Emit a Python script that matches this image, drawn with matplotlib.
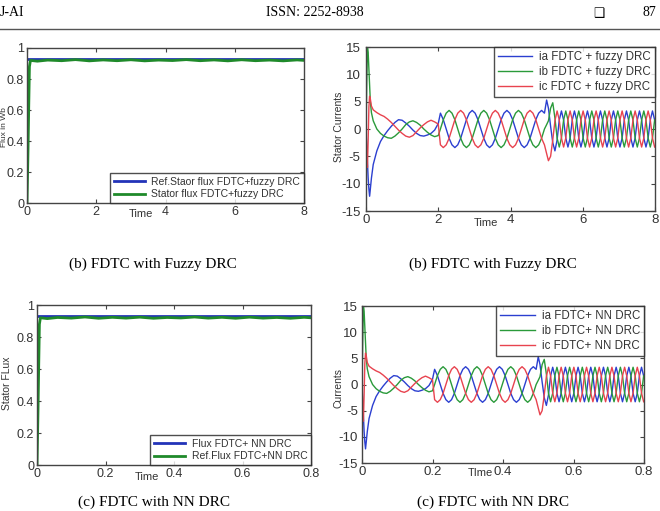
import matplotlib
matplotlib.use('Agg')
import matplotlib.pyplot as plt
from matplotlib.lines import Line2D
import numpy as np

# stator flux, fuzzy DRC run (time in s)
flux_t = [0, 0.03, 0.05, 0.07, 0.1, 0.3, 0.6, 1.0, 1.4, 1.8, 2.2, 2.6, 3.0, 3.4,
          3.8, 4.2, 4.6, 5.0, 5.4, 5.8, 6.2, 6.6, 7.0, 7.4, 7.8, 8.0]
flux_v = [0, 0.35, 0.62, 0.88, 0.92, 0.915, 0.922, 0.918, 0.925, 0.917, 0.923,
          0.918, 0.924, 0.917, 0.922, 0.919, 0.925, 0.918, 0.923, 0.917, 0.924,
          0.918, 0.922, 0.917, 0.923, 0.92]
flux_ref_t = [0, 8]
flux_ref_v = [0.93, 0.93]

# stator currents, fuzzy DRC run
cur_t = [0, 0.02, 0.04, 0.06, 0.08, 0.10, 0.12, 0.15, 0.2, 0.3, 0.4, 0.5, 0.6, 0.7,
         0.8, 0.9, 1.0, 1.1, 1.2, 1.3, 1.4, 1.5, 1.6, 1.7, 1.8, 1.9, 2.0,
         2.06, 2.14, 2.22, 2.30, 2.38, 2.46, 2.54, 2.62, 2.70, 2.78, 2.86, 2.94,
         3.02, 3.10, 3.18, 3.26, 3.34, 3.42, 3.50, 3.58, 3.66, 3.74, 3.82, 3.90,
         3.98, 4.06, 4.14, 4.22, 4.30, 4.38, 4.46, 4.54, 4.62, 4.70, 4.78, 4.86, 4.94,
         5.00,
         5.05, 5.11, 5.17, 5.23, 5.29, 5.35, 5.41, 5.47, 5.53, 5.59, 5.65, 5.71,
         5.77, 5.83, 5.89, 5.95, 6.01, 6.07, 6.13, 6.19, 6.25, 6.31, 6.37, 6.43,
         6.49, 6.55, 6.61, 6.67, 6.73, 6.79, 6.85, 6.91, 6.97, 7.03, 7.09, 7.15,
         7.21, 7.27, 7.33, 7.39, 7.45, 7.51, 7.57, 7.63, 7.69, 7.75, 7.81, 7.87,
         7.93, 7.99]
ia = [0, -3, -6, -9, -11, -12.3, -11, -9, -6.5, -4, -2.3, -1.2, -0.3, 0.5, 1.2, 1.7,
      1.6, 1.1, 0.5, -0.2, -0.8, -1.2, -1.3, -1.1, -0.8, -0.2, 1.0,
      2.9, 1.7, 0, -1.7, -2.9, -3.4, -2.9, -1.7, 0, 1.7, 2.9, 3.4,
      2.9, 1.7, 0, -1.7, -2.9, -3.4, -2.9, -1.7, 0, 1.7, 2.9, 3.4,
      2.9, 1.7, 0, -1.7, -2.9, -3.4, -2.9, -1.7, 0, 1.7, 2.9, 3.4, 2.9,
      5.3,
      3.8, 0.5, -2.5, -4.0, -2.0, 1.65,
      3.3, 1.65, -1.65, -3.3, -1.65, 1.65, 3.3, 1.65, -1.65, -3.3, -1.65, 1.65,
      3.3, 1.65, -1.65, -3.3, -1.65, 1.65, 3.3, 1.65, -1.65, -3.3, -1.65, 1.65,
      3.3, 1.65, -1.65, -3.3, -1.65, 1.65, 3.3, 1.65, -1.65, -3.3, -1.65, 1.65,
      3.3, 1.65, -1.65, -3.3, -1.65, 1.65, 3.3, 1.65]
ib = [0, 8, 15, 14, 11, 8, 5, 3, 1.5, 0, -0.8, -1.3, -1.6, -1.7, -1.3, -0.7,
      0, 0.8, 1.3, 1.5, 1.2, 0.7, 0, -0.6, -1.1, -1.4, -1.2,
      0, 1.7, 2.9, 3.4, 2.9, 1.7, 0, -1.7, -2.9, -3.4, -2.9, -1.7,
      0, 1.7, 2.9, 3.4, 2.9, 1.7, 0, -1.7, -2.9, -3.4, -2.9, -1.7,
      0, 1.7, 2.9, 3.4, 2.9, 1.7, 0, -1.7, -2.9, -3.4, -2.9, -1.7, 0,
      0.8,
      1.5, 3.8, 4.8, 2.0, -1.65, -3.3,
      -1.65, 1.65, 3.3, 1.65, -1.65, -3.3, -1.65, 1.65, 3.3, 1.65, -1.65, -3.3,
      -1.65, 1.65, 3.3, 1.65, -1.65, -3.3, -1.65, 1.65, 3.3, 1.65, -1.65, -3.3,
      -1.65, 1.65, 3.3, 1.65, -1.65, -3.3, -1.65, 1.65, 3.3, 1.65, -1.65, -3.3,
      -1.65, 1.65, 3.3, 1.65, -1.65, -3.3, -1.65, 1.65]
ic = [0, -4, -7, -2, 4, 6, 5.5, 4.2, 3.5, 3.0, 2.6, 2.3, 1.8, 1.2, 0.5, -0.2,
      -0.8, -1.3, -1.5, -1.2, -0.5, 0.2, 0.8, 1.3, 1.6, 1.3, 0.9,
      -2.9, -3.4, -2.9, -1.7, 0, 1.7, 2.9, 3.4, 2.9, 1.7, 0, -1.7,
      -2.9, -3.4, -2.9, -1.7, 0, 1.7, 2.9, 3.4, 2.9, 1.7, 0, -1.7,
      -2.9, -3.4, -2.9, -1.7, 0, 1.7, 2.9, 3.4, 2.9, 1.7, 0, -1.7, -2.9,
      -4.5,
      -5.8, -5.0, -2.0, 1.5, 3.3, 1.65,
      -1.65, -3.3, -1.65, 1.65, 3.3, 1.65, -1.65, -3.3, -1.65, 1.65, 3.3, 1.65,
      -1.65, -3.3, -1.65, 1.65, 3.3, 1.65, -1.65, -3.3, -1.65, 1.65, 3.3, 1.65,
      -1.65, -3.3, -1.65, 1.65, 3.3, 1.65, -1.65, -3.3, -1.65, 1.65, 3.3, 1.65,
      -1.65, -3.3, -1.65, 1.65, 3.3, 1.65, -1.65, -3.3]

# NN DRC run has the same shape on a 0..0.8 s axis
nn_time_scale = 0.1

flux_ticks = [0, 0.2, 0.4, 0.6, 0.8, 1]
flux_ticklabels = ['0', '0.2', '0.4', '0.6', '0.8', '1']
cur_ticks = [-15, -10, -5, 0, 5, 10, 15]
t_ticks_fuzzy = [0, 2, 4, 6, 8]
t_labels_fuzzy = ['0', '2', '4', '6', '8']
t_ticks_nn = [0, 0.2, 0.4, 0.6, 0.8]
t_labels_nn = ['0', '0.2', '0.4', '0.6', '0.8']

C_BLUE = '#2b3fd0'
C_GREEN = '#2a9a3a'
C_RED = '#e8434f'
C_FBLUE = '#2233b8'
C_FGREEN = '#1f8a2a'
SANS = 'Liberation Sans'
SERIF = 'Liberation Serif'
TXT = '#333333'

fig = plt.figure(figsize=(6.6, 5.11), dpi=100)


def style(ax, xt, xl, xlim, yt, yl, ylim, fs=9, ypad=2):
    ax.set_xlim(xlim)
    ax.set_ylim(ylim)
    ax.set_xticks(xt)
    ax.set_xticklabels(xl, fontfamily=SANS, fontsize=fs, color=TXT)
    ax.set_yticks(yt)
    ax.set_yticklabels(yl, fontfamily=SANS, fontsize=fs, color=TXT)
    ax.tick_params(direction='in', top=True, right=True, length=3, width=0.8,
                   color='#444444', pad=2)
    ax.tick_params(axis='y', pad=ypad)
    for s in ax.spines.values():
        s.set_color('#444444')
        s.set_linewidth(1.0)


def legend(ax, loc, fs, lw):
    lg = ax.legend(loc=loc, borderaxespad=0, fancybox=False, frameon=True,
                   handlelength=3.0, handletextpad=0.6, labelspacing=0.25,
                   borderpad=0.35, prop={'family': SANS, 'size': fs})
    lg.get_frame().set_edgecolor('#222222')
    lg.get_frame().set_linewidth(1.0)
    for h in lg.get_lines():
        h.set_linewidth(lw)
    for t in lg.get_texts():
        t.set_color(TXT)


# (b) flux, fuzzy DRC
ax1 = fig.add_axes([27 / 660, 1 - 203 / 511, 277 / 660, 155 / 511])
ax1.plot(flux_ref_t, flux_ref_v, color=C_FBLUE, lw=2, label='Ref.Staor flux FDTC+fuzzy DRC')
ax1.plot(flux_t, flux_v, color=C_FGREEN, lw=2, label='Stator flux FDTC+fuzzy DRC')
style(ax1, t_ticks_fuzzy, t_labels_fuzzy, (0, 8), flux_ticks, flux_ticklabels, (0, 1))
legend(ax1, 'lower right', 7.5, 2)
ax1.text(0.41, -0.07, 'Time', transform=ax1.transAxes, ha='center', va='center',
         fontfamily=SANS, fontsize=8, color=TXT)
fig.text(4.5 / 660, 1 - 127 / 511, 'Flux in Wb', rotation=90, ha='center', va='center',
         fontfamily=SANS, fontsize=6, color=TXT)

# (b) currents, fuzzy DRC
ax2 = fig.add_axes([366 / 660, 1 - 211 / 511, 289 / 660, 164 / 511])
ax2.plot(cur_t, ia, color=C_BLUE, lw=1, label='ia FDTC + fuzzy DRC')
ax2.plot(cur_t, ib, color=C_GREEN, lw=1, label='ib FDTC + fuzzy DRC')
ax2.plot(cur_t, ic, color=C_RED, lw=1, label='ic FDTC + fuzzy DRC')
style(ax2, t_ticks_fuzzy, t_labels_fuzzy, (0, 8), cur_ticks,
      [str(v) for v in cur_ticks], (-15, 15), fs=9.5, ypad=4)
legend(ax2, 'upper right', 8.3, 1)
ax2.text(0.415, -0.073, 'Time', transform=ax2.transAxes, ha='center', va='center',
         fontfamily=SANS, fontsize=8, color=TXT)
fig.text(339 / 660, 1 - 127 / 511, 'Stator Currents', rotation=90, ha='center',
         va='center', fontfamily=SANS, fontsize=7.5, color=TXT)

# (c) flux, NN DRC
t_nn_flux = np.array(flux_t) * nn_time_scale
t_nn_ref = np.array(flux_ref_t) * nn_time_scale
ax3 = fig.add_axes([37 / 660, 1 - 465 / 511, 274 / 660, 160 / 511])
ax3.plot(t_nn_ref, flux_ref_v, color=C_FBLUE, lw=2, label='Flux FDTC+ NN DRC')
ax3.plot(t_nn_flux, flux_v, color=C_FGREEN, lw=2, label='Ref.Flux FDTC+NN DRC')
style(ax3, t_ticks_nn, t_labels_nn, (0, 0.8), flux_ticks, flux_ticklabels, (0, 1))
legend(ax3, 'lower right', 7.5, 2)
ax3.text(0.40, -0.075, 'Time', transform=ax3.transAxes, ha='center', va='center',
         fontfamily=SANS, fontsize=8, color=TXT)
fig.text(7 / 660, 1 - 383 / 511, 'Stator FLux', rotation=90, ha='center', va='center',
         fontfamily=SANS, fontsize=7.5, color=TXT)

# (c) currents, NN DRC
t_nn_cur = np.array(cur_t) * nn_time_scale
ax4 = fig.add_axes([362 / 660, 1 - 463 / 511, 282 / 660, 157 / 511])
ax4.plot(t_nn_cur, ia, color=C_BLUE, lw=1, label='ia FDTC+ NN DRC')
ax4.plot(t_nn_cur, ib, color=C_GREEN, lw=1, label='ib FDTC+ NN DRC')
ax4.plot(t_nn_cur, ic, color=C_RED, lw=1, label='ic FDTC+ NN DRC')
style(ax4, t_ticks_nn, t_labels_nn, (0, 0.8), cur_ticks,
      [str(v) for v in cur_ticks], (-15, 15), fs=9.5, ypad=3)
legend(ax4, 'upper right', 8.3, 1)
ax4.text(0.42, -0.064, 'TIme', transform=ax4.transAxes, ha='center', va='center',
         fontfamily=SANS, fontsize=8, color=TXT)
fig.text(339 / 660, 1 - 388 / 511, 'Currents', rotation=90, ha='center', va='center',
         fontfamily=SANS, fontsize=7.5, color=TXT)

# page header and captions
fig.text(0, 1 - 13 / 511, 'J-AI', ha='left', va='center', fontfamily=SERIF, fontsize=10)
fig.text(315 / 660, 1 - 13 / 511, 'ISSN: 2252-8938', ha='center', va='center',
         fontfamily=SERIF, fontsize=10)
fig.text(599 / 660, 1 - 13 / 511, '\u2751', ha='center', va='center',
         fontfamily='DejaVu Sans', fontsize=9)
fig.text(649 / 660, 1 - 13 / 511, '87', ha='center', va='center', fontfamily=SERIF, fontsize=10)
fig.add_artist(Line2D([0, 1], [1 - 29 / 511, 1 - 29 / 511], transform=fig.transFigure,
                      color='#555555', lw=1))

fig.text(153 / 660, 1 - 264 / 511, '(b) FDTC with Fuzzy DRC', ha='center', va='center',
         fontfamily=SERIF, fontsize=11)
fig.text(493 / 660, 1 - 264 / 511, '(b) FDTC with Fuzzy DRC', ha='center', va='center',
         fontfamily=SERIF, fontsize=11)
fig.text(154 / 660, 1 - 502 / 511, '(c) FDTC with NN DRC', ha='center', va='center',
         fontfamily=SERIF, fontsize=11)
fig.text(493 / 660, 1 - 502 / 511, '(c) FDTC with NN DRC', ha='center', va='center',
         fontfamily=SERIF, fontsize=11)

fig.savefig('out.png', dpi=100)
